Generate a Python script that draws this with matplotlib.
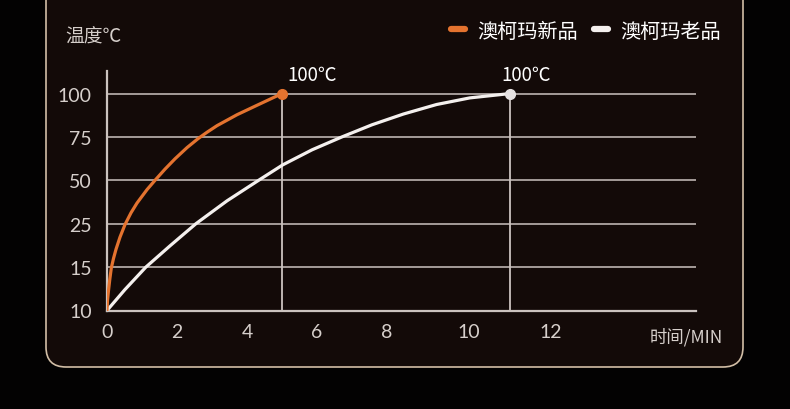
import numpy as np
import matplotlib
matplotlib.use("Agg")
import matplotlib.pyplot as plt
from matplotlib.patches import FancyBboxPatch
from matplotlib.lines import Line2D

plt.rcParams["font.family"] = ["Noto Sans CJK SC", "DejaVu Sans"]

# 数据
y_levels = [10, 15, 25, 50, 75, 100]
x_ticks = [0, 2, 4, 6, 8, 10, 12]

new_x = [0, 0.014, 0.043, 0.08, 0.123, 0.186, 0.257, 0.371, 0.514, 0.686, 0.857, 1.143,
         1.371, 1.657, 1.943, 2.286, 2.6, 2.857, 3.143, 3.714, 4.286, 5.0]
new_y = [10, 11.15, 12.3, 13.6, 14.9, 17, 19.1, 21.9, 24.8, 31.3, 36.9, 44.65,
         50, 56.45, 62.4, 68.85, 74, 77.7, 81.5, 87.8, 93.25, 100]

old_x = [0, 0.51, 1.11, 1.8, 2.54, 3.43, 4.33, 5.02, 5.86, 6.71, 7.57, 8.4, 9.21, 10.02, 11]
old_y = [10, 12.4, 15, 19.9, 25, 38.2, 50, 58.9, 67.6, 75, 82, 88.2, 93.7, 97.5, 100]

labels = ["澳柯玛新品", "澳柯玛老品"]
c_new = "#e4732f"
c_old = "#f4f0ee"
c_grid = "#cbc3bf"
c_text = "#d6cfcb"

# 坐标轴是分段的：y 轴刻度等距，x 轴 8 以后被拉开
x_src = [-5, 0, 8, 40]
x_dst = [-5, 0, 8, 8 + 32 * 41 / 35]
y_src = [-40, 10, 15, 25, 50, 75, 100, 300]
y_dst = [-10, 0, 1, 2, 3, 4, 5, 13]


def fx(v):
    return np.interp(v, x_src, x_dst)


def ix(v):
    return np.interp(v, x_dst, x_src)


def fy(v):
    return np.interp(v, y_src, y_dst)


def iy(v):
    return np.interp(v, y_dst, y_src)


fig = plt.figure(figsize=(7.9, 4.1), dpi=100)
fig.patch.set_facecolor("#030202")

# 圆角卡片背景
card = FancyBboxPatch((0.46, 0.42), 6.97, 4.0,
                      boxstyle="round,pad=0,rounding_size=0.2",
                      transform=fig.dpi_scale_trans,
                      facecolor="#130a08", edgecolor="#d2bea6", linewidth=1.2,
                      zorder=-10)
fig.patches.append(card)

ax = fig.add_axes([107 / 790, (410 - 311.5) / 410, 589 / 790, 239.5 / 410])
ax.set_facecolor("none")
ax.set_xscale("function", functions=(fx, ix))
ax.set_yscale("function", functions=(fy, iy))
ax.set_xlim(0, ix(8 + (696 - 387) / 35))
ax.set_ylim(10, iy(5.52))

ax.set_yticks(y_levels)
ax.set_yticklabels([str(v) for v in y_levels])
ax.set_xticks(x_ticks)
ax.set_xticklabels([str(v) for v in x_ticks])
ax.minorticks_off()
ax.tick_params(length=0, labelsize=14, labelcolor=c_text)
ax.tick_params(axis="y", pad=11)
ax.tick_params(axis="x", pad=9)
for lbl in ax.get_xticklabels() + ax.get_yticklabels():
    lbl.set_fontfamily(["Lato", "DejaVu Sans"])

ax.yaxis.grid(True, color=c_grid, linewidth=1.1)
ax.set_axisbelow(True)
for s in ["top", "right"]:
    ax.spines[s].set_visible(False)
for s in ["left", "bottom"]:
    ax.spines[s].set_color(c_grid)
    ax.spines[s].set_linewidth(1.6)

# 到达 100℃ 的竖线
ax.vlines([new_x[-1], old_x[-1]], 10, 100, color=c_grid, linewidth=1.3, zorder=2)

ax.plot(old_x, old_y, color=c_old, linewidth=2.3, zorder=3,
        solid_capstyle="round", solid_joinstyle="round")
ax.plot(new_x, new_y, color=c_new, linewidth=2.3, zorder=4,
        solid_capstyle="round", solid_joinstyle="round")
ax.plot(new_x[-1], new_y[-1], "o", color=c_new, markersize=7, zorder=5)
ax.plot(old_x[-1], old_y[-1], "o", color="#e6e2e2", markersize=7, zorder=5)

ax.annotate("100℃", (new_x[-1], new_y[-1]), xytext=(4, 6), textcoords="offset points",
            ha="left", va="bottom", color="white", fontsize=13.5)
ax.annotate("100℃", (old_x[-1], old_y[-1]), xytext=(-6, 6), textcoords="offset points",
            ha="left", va="bottom", color="white", fontsize=13.5)

fig.text(65 / 790, 1 - 37 / 410, "温度℃", color=c_text, fontsize=13.5,
         ha="left", va="center")
fig.text(723 / 790, 1 - 337 / 410, "时间/MIN", color=c_text, fontsize=12.5,
         ha="right", va="center")

handles = [Line2D([], [], color=c_new, linewidth=4.5, solid_capstyle="round"),
           Line2D([], [], color=c_old, linewidth=4.5, solid_capstyle="round")]
fig.legend(handles, labels, loc="center right", bbox_to_anchor=(721 / 790, 1 - 32 / 410),
           ncol=2, frameon=False, fontsize=14.5, labelcolor="white",
           handlelength=0.7, handletextpad=0.6, columnspacing=0.8,
           borderpad=0, borderaxespad=0)

fig.savefig("out.png", dpi=100, facecolor=fig.get_facecolor())
